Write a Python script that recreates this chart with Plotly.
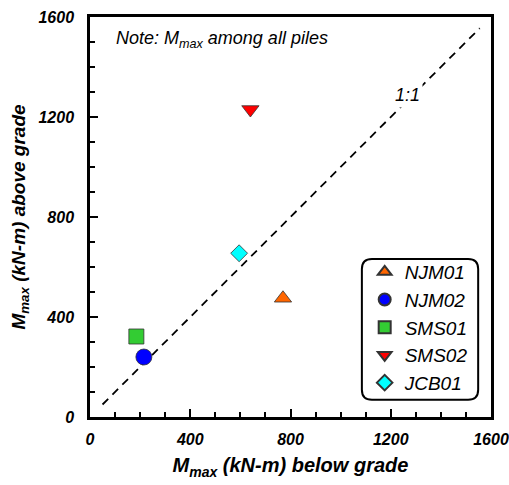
import plotly.graph_objects as go

# Maximum pile bending moments (kN-m)
piles = ["NJM01", "NJM02", "SMS01", "SMS02", "JCB01"]
below_grade = [770, 215, 185, 640, 595]
above_grade = [475, 240, 322, 1230, 655]
symbols = ["triangle-up", "circle", "square", "triangle-down", "diamond"]
colors = ["#FF6600", "#0000FF", "#33CC33", "#FF0000", "#00FFFF"]
sizes = [15, 16, 15, 15, 13]

axis_range = [0, 1600]
major_ticks = [0, 400, 800, 1200, 1600]
one_to_one = [50, 1555]

FONT = "Arial, Liberation Sans, sans-serif"

fig = go.Figure()

# 1:1 reference line
fig.add_trace(go.Scatter(
    x=one_to_one, y=one_to_one, mode="lines",
    line=dict(color="black", width=1.8, dash="8px,6px"),
    showlegend=False, hoverinfo="skip",
))

for name, xv, yv, sym, col, sz in zip(piles, below_grade, above_grade, symbols, colors, sizes):
    fig.add_trace(go.Scatter(
        x=[xv], y=[yv], mode="markers", name=name,
        marker=dict(symbol=sym, color=col, size=sz,
                    line=dict(color="#333333", width=0.8)),
    ))

axis_common = dict(
    range=axis_range, tickvals=major_ticks,
    ticks="inside", ticklen=8, tickwidth=2, tickcolor="black",
    minor=dict(dtick=100, ticks="inside", ticklen=5, tickwidth=2, tickcolor="black"),
    showgrid=False, zeroline=False, automargin=False,
    showline=True, linewidth=2.5, linecolor="black", mirror=True,
    tickfont=dict(family=FONT, size=16, color="black", weight="bold", style="italic"),
)
title_font = dict(family=FONT, size=19, color="black", weight="bold", style="italic")

fig.update_layout(
    width=509, height=485,
    margin=dict(l=90, r=18, t=17, b=68),
    paper_bgcolor="white", plot_bgcolor="white",
    xaxis=dict(
        **axis_common,
        ticklabelstandoff=6,
        title=dict(text="M<sub>max</sub> (kN-m) below grade", standoff=12,
                   font={**title_font, "size": 20}),
    ),
    yaxis=dict(
        **axis_common,
        ticklabelstandoff=10,
        title=dict(text="M<sub>max</sub> (kN-m) above grade", standoff=8, font=title_font),
    ),
    legend=dict(
        x=0.685, y=0.41, xanchor="left", yanchor="top",
        bgcolor="rgba(0,0,0,0)", borderwidth=0,
        font=dict(family=FONT, size=19, color="black", style="italic"),
        itemsizing="constant", tracegroupgap=0,
    ),
    annotations=[
        dict(x=0.06, y=0.943, xref="paper", yref="paper", xanchor="left", yanchor="middle",
             text="Note: M<sub>max</sub> among all piles", showarrow=False,
             font=dict(family=FONT, size=18, color="black", style="italic")),
        dict(x=1268, y=1290, xref="x", yref="y", text="1:1", showarrow=False,
             bgcolor="white", borderpad=2,
             font=dict(family=FONT, size=18, color="black", style="italic")),
    ],
    shapes=[
        # rounded frame around the legend
        dict(type="path", xref="paper", yref="paper",
             path=("M 0.703,0.395 L 0.943,0.395 Q 0.968,0.395 0.968,0.370 "
                   "L 0.968,0.068 Q 0.968,0.043 0.943,0.043 L 0.703,0.043 "
                   "Q 0.678,0.043 0.678,0.068 L 0.678,0.370 Q 0.678,0.395 0.703,0.395 Z"),
             line=dict(color="black", width=2), fillcolor="white", layer="below"),
    ],
)

fig.write_html("out.html")
